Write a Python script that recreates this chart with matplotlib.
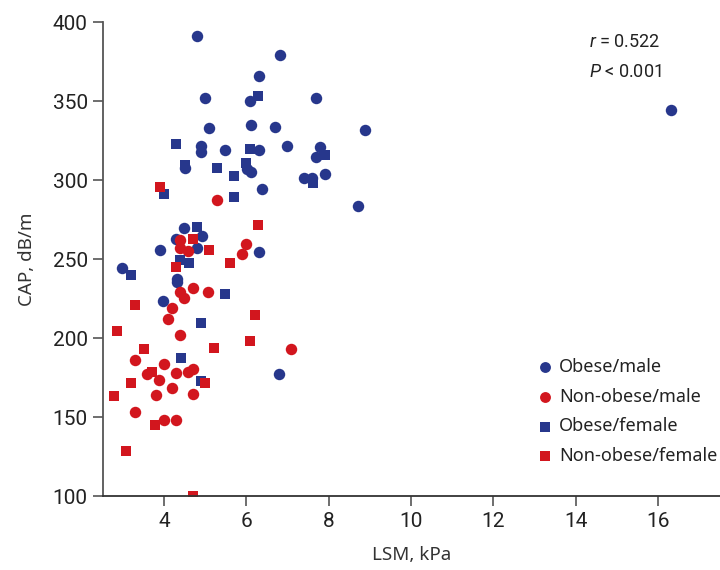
import matplotlib
matplotlib.use("Agg")
import matplotlib.pyplot as plt
from matplotlib import font_manager

# ---- data ----
obese_male_lsm = [4.80, 6.81, 6.30, 5.00, 6.10, 7.70, 5.10, 6.11, 6.69, 8.89, 4.89, 4.91,
                  5.49, 6.30, 7.00, 7.80, 7.70, 4.51, 6.01, 6.12, 7.41, 7.60, 7.90, 6.39,
                  8.70, 4.49, 4.29, 4.93, 3.90, 4.80, 6.30, 2.99, 4.31, 4.31, 3.98, 16.30, 6.80]
obese_male_cap = [391, 379, 366, 352, 350, 352, 333, 335, 334, 332, 321.5, 318,
                  319, 319, 322, 321, 315, 307.5, 307, 305, 301.5, 301.5, 304, 294.5,
                  283.5, 270, 263, 264.5, 256, 257, 254.5, 244.5, 237.5, 235.5, 223.5, 344.5, 177.5]

nonobese_male_lsm = [5.28, 4.39, 5.99, 4.39, 4.59, 5.90, 4.71, 4.39, 4.49, 5.08, 4.20, 4.10,
                     4.40, 7.08, 3.29, 4.01, 3.59, 3.89, 4.30, 4.58, 4.70, 4.19, 3.80, 4.70,
                     3.29, 3.99, 4.30]
nonobese_male_cap = [287.5, 262.5, 260, 257, 255, 253.5, 232, 229.5, 225.5, 229.5, 219, 212,
                     202, 193.5, 186.5, 184, 177.5, 173.5, 178, 178.5, 180.5, 168.5, 164.5, 165,
                     153.5, 148.5, 148.5]

obese_female_lsm = [6.29, 6.09, 7.92, 4.29, 4.51, 5.28, 5.99, 5.70, 7.62, 3.99, 5.70, 4.80,
                    4.39, 4.60, 3.19, 5.48, 4.89, 4.41, 4.89]
obese_female_cap = [353.5, 319.5, 316, 323, 309.5, 308, 311, 302.5, 298.5, 291.5, 289.5, 270.5,
                    249.5, 247.5, 240, 228, 209.5, 187.5, 173]

nonobese_female_lsm = [3.90, 6.28, 4.70, 5.09, 4.29, 5.60, 3.29, 6.21, 2.87, 6.09, 3.51, 5.21,
                       3.70, 4.99, 3.19, 2.80, 3.78, 3.09, 4.70]
nonobese_female_cap = [295.5, 271.5, 263, 256, 245, 247.5, 221, 214.5, 204.5, 198.5, 193.5, 194,
                       179, 171.5, 171.5, 163.5, 145.5, 128.5, 100]

group_labels = ["Obese/male", "Non-obese/male", "Obese/female", "Non-obese/female"]
x_ticks = [4, 6, 8, 10, 12, 14, 16]
y_ticks = [100, 150, 200, 250, 300, 350, 400]
stats_lines = ["$r$ = 0.522", "$P$ < 0.001"]

BLUE = "#27378c"
RED = "#d2161e"

names = {f.name for f in font_manager.fontManager.ttflist}
narrow = "Liberation Sans Narrow" if "Liberation Sans Narrow" in names else "Roboto"

plt.rcParams["font.family"] = ["Noto Sans", "DejaVu Sans"]
plt.rcParams["mathtext.fontset"] = "custom"
plt.rcParams["mathtext.it"] = "Roboto:italic"
plt.rcParams["mathtext.rm"] = "Roboto"

fig = plt.figure(figsize=(7.2, 5.7), dpi=100)
ax = fig.add_axes([0.143, 0.129, 0.857, 0.832])

ax.scatter(obese_male_lsm, obese_male_cap, marker="o", s=68, color=BLUE, lw=0, label=group_labels[0], zorder=3)
ax.scatter(nonobese_male_lsm, nonobese_male_cap, marker="o", s=68, color=RED, lw=0, label=group_labels[1], zorder=3)
ax.scatter(obese_female_lsm, obese_female_cap, marker="s", s=52, color=BLUE, lw=0, label=group_labels[2], zorder=3)
ax.scatter(nonobese_female_lsm, nonobese_female_cap, marker="s", s=52, color=RED, lw=0, label=group_labels[3], zorder=3)

ax.set_xlim(2.52, 17.5)
ax.set_ylim(100, 400)
ax.set_xticks(x_ticks)
ax.set_yticks(y_ticks)
for s in ["top", "right"]:
    ax.spines[s].set_visible(False)
for s in ["left", "bottom"]:
    ax.spines[s].set_color("#555555")
    ax.spines[s].set_linewidth(1.3)
ax.spines["bottom"].set_zorder(5)
ax.spines["bottom"].set_color("#333333")
ax.tick_params(axis="both", direction="out", length=7, width=1.2, color="#555555",
               labelsize=15, labelcolor="#222222", pad=4)
for lab in ax.get_xticklabels() + ax.get_yticklabels():
    lab.set_fontfamily(narrow)

ax.set_xlabel("LSM, kPa", fontsize=13.5, color="#333333", labelpad=11)
ax.set_ylabel("CAP, dB/m", fontsize=13.5, color="#333333", labelpad=12)

ax.text(0.846, 0.958, stats_lines[0], transform=ax.transAxes, ha="center", va="center",
        fontsize=13, color="#222222", family=["Roboto", "DejaVu Sans"])
ax.text(0.846, 0.895, stats_lines[1], transform=ax.transAxes, ha="center", va="center",
        fontsize=13, color="#222222", family=["Roboto", "DejaVu Sans"])

leg = ax.legend(loc="lower right", bbox_to_anchor=(1.008, 0.051), frameon=False, fontsize=13,
                handletextpad=0.2, labelspacing=0.65, borderaxespad=0.0, handlelength=1.2,
                markerscale=0.95)
for t in leg.get_texts():
    t.set_color("#222222")

fig.savefig("out.png", dpi=100)
